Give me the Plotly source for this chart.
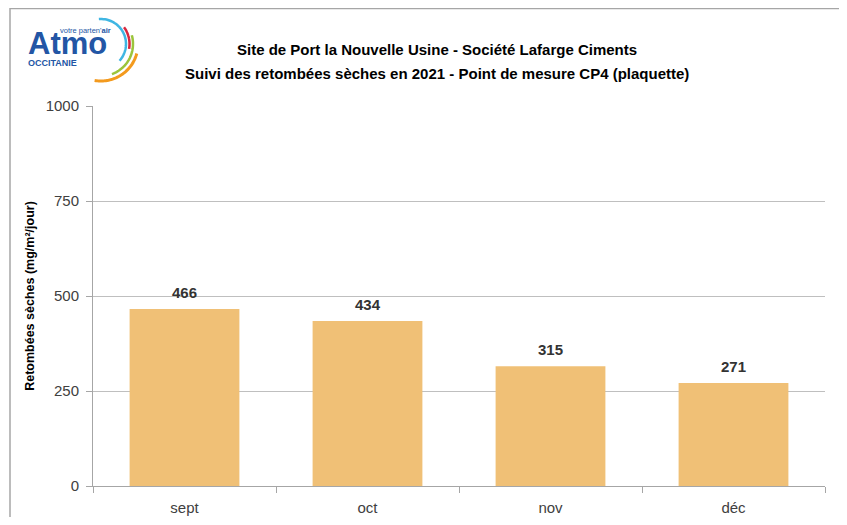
import numpy as np
import plotly.graph_objects as go

mois = ["sept", "oct", "nov", "déc"]
retombees = [466, 434, 315, 271]
y_ticks = [0, 250, 500, 750, 1000]

# la page ajoute 8 px de marge autour de la figure
OFF = 8
W, H = 847 - 2 * OFF, 525 - 2 * OFF
L, R, T, B = 85, 14, 98, 31
pw, ph = W - L - R, H - T - B


def px(x):
    # position en pixels de la page -> fraction du papier
    return (x - OFF - L) / pw


def py(y):
    return (H - B - (y - OFF)) / ph


FONT = "Liberation Sans, Arial"

fig = go.Figure()
fig.add_trace(go.Bar(
    x=mois, y=retombees,
    marker=dict(color="#F0C076", line=dict(width=0)),
    width=0.6, hoverinfo="x+y",
))

shapes = []
# cadre extérieur
shapes.append(dict(type="line", xref="paper", yref="paper",
                   x0=px(10), x1=px(847), y0=py(8.5), y1=py(8.5),
                   line=dict(color="#A6A6A6", width=1.5)))
shapes.append(dict(type="line", xref="paper", yref="paper",
                   x0=px(10), x1=px(10), y0=py(8), y1=py(530),
                   line=dict(color="#A6A6A6", width=1.5)))

# logo : arcs colorés
cx, cy = 101, 44
for col, r, a0, a1, w in [("#3FB6E3", 25, 95, -42, 2.5),
                          ("#D7263D", 28.5, 36, -10, 2.5),
                          ("#9BC43B", 32, 16, -70, 2.5),
                          ("#F39A1E", 37, -15, -100, 3)]:
    th = np.deg2rad(np.linspace(a0, a1, 40))
    xs = cx + r * np.cos(th)
    ys = cy - r * np.sin(th)
    path = "M " + " L ".join(f"{px(a):.4f},{py(b):.4f}" for a, b in zip(xs, ys))
    shapes.append(dict(type="path", xref="paper", yref="paper", path=path,
                       line=dict(color=col, width=w)))

annotations = [
    dict(text="<b>Atmo</b>", x=px(26), y=py(56), xref="paper", yref="paper",
         xanchor="left", yanchor="bottom", showarrow=False, yshift=-7,
         font=dict(family=FONT, size=31, color="#2356A5")),
    dict(text="<b>OCCITANIE</b>", x=px(26), y=py(63), xref="paper", yref="paper",
         xanchor="left", yanchor="middle", showarrow=False,
         font=dict(family=FONT, size=9, color="#2356A5")),
    dict(text="votre parten'<b>air</b>", x=px(58), y=py(30), xref="paper", yref="paper",
         xanchor="left", yanchor="middle", showarrow=False,
         font=dict(family=FONT, size=7.5, color="#2356A5")),
    dict(text="<b>Site de Port la Nouvelle Usine - Société Lafarge Ciments</b>",
         x=px(437), y=py(50), xref="paper", yref="paper",
         xanchor="center", yanchor="middle", showarrow=False,
         font=dict(family=FONT, size=15, color="#000000")),
    dict(text="<b>Suivi des retombées sèches en 2021 - Point de mesure CP4 (plaquette)</b>",
         x=px(437), y=py(73), xref="paper", yref="paper",
         xanchor="center", yanchor="middle", showarrow=False,
         font=dict(family=FONT, size=15, color="#000000")),
]
# étiquettes de valeur au-dessus des barres
for m, v in zip(mois, retombees):
    annotations.append(dict(
        text=f"<b>{v}</b>", x=m, y=v, xref="x", yref="y",
        xanchor="center", yanchor="bottom", yshift=6, showarrow=False,
        font=dict(family=FONT, size=15, color="#333333"),
    ))

fig.update_layout(
    width=W, height=H,
    margin=dict(l=L, r=R, t=T, b=B, autoexpand=False),
    paper_bgcolor="white", plot_bgcolor="white",
    showlegend=False,
    shapes=shapes,
    annotations=annotations,
    xaxis=dict(
        automargin=False,
        showline=True, linecolor="#A6A6A6", linewidth=1,
        ticks="outside", tickson="boundaries", ticklen=6, tickcolor="#A6A6A6",
        tickfont=dict(family=FONT, size=15, color="#404040"),
        ticklabelstandoff=8,
        showgrid=False,
    ),
    yaxis=dict(
        automargin=False,
        range=[0, 1000], tickvals=y_ticks,
        showline=True, linecolor="#A6A6A6", linewidth=1,
        ticks="outside", ticklen=6, tickcolor="#A6A6A6",
        gridcolor="#BFBFBF", gridwidth=1, zeroline=False,
        tickfont=dict(family=FONT, size=15, color="#404040"),
        ticklabelstandoff=4,
        title=dict(text="<b>Retombées sèches (mg/m²/jour)</b>", standoff=8,
                   font=dict(family=FONT, size=12.5, color="#000000")),
    ),
)

fig.write_html("out.html")
